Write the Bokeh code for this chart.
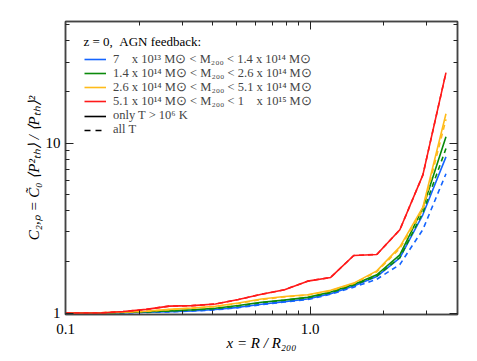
from bokeh.plotting import figure
from bokeh.models import FixedTicker, LogAxis, Legend, LegendItem, Range1d, Label
from bokeh.embed import file_html
from bokeh.resources import INLINE

# radial bins x = R / R200
x = [0.1, 0.1115, 0.1385, 0.172, 0.2137, 0.2655, 0.3298, 0.4098, 0.509, 0.6324,
     0.7856, 0.9761, 1.2127, 1.5065, 1.8716, 2.3252, 2.8885, 3.5887]

# C_{2,P}: solid = only T > 1e6 K, dashed = all T
blue_hot = [1.0, 1.0, 1.0, 1.004, 1.01, 1.018, 1.03, 1.048, 1.08, 1.125, 1.167, 1.21, 1.30, 1.44, 1.64, 2.11, 3.80, 8.30]
blue_all = [1.0, 1.0, 1.0, 1.003, 1.008, 1.015, 1.027, 1.044, 1.075, 1.12, 1.16, 1.20, 1.29, 1.42, 1.58, 1.93, 3.10, 6.60]
green_hot = [1.0, 1.0, 1.0, 1.008, 1.018, 1.03, 1.045, 1.066, 1.106, 1.156, 1.194, 1.236, 1.33, 1.47, 1.68, 2.20, 4.15, 10.9]
green_all = [1.0, 1.0, 1.0, 1.007, 1.016, 1.028, 1.042, 1.062, 1.10, 1.15, 1.19, 1.23, 1.32, 1.46, 1.65, 2.12, 3.90, 9.3]
yellow_hot = [1.0, 1.0, 1.003, 1.012, 1.025, 1.05, 1.07, 1.095, 1.145, 1.21, 1.25, 1.28, 1.36, 1.50, 1.77, 2.45, 4.20, 14.9]
yellow_all = [1.0, 1.0, 1.003, 1.011, 1.023, 1.047, 1.067, 1.09, 1.14, 1.20, 1.245, 1.275, 1.35, 1.49, 1.75, 2.40, 4.05, 13.8]
red_hot = [1.0, 1.0, 1.0, 1.02, 1.05, 1.098, 1.105, 1.13, 1.20, 1.29, 1.37, 1.54, 1.62, 2.18, 2.21, 3.09, 6.5, 26.0]
red_all = [1.0, 1.0, 1.0, 1.02, 1.05, 1.098, 1.105, 1.13, 1.20, 1.29, 1.37, 1.54, 1.62, 2.18, 2.21, 3.09, 6.5, 26.0]

series_labels = [
    "7\u2008\u2007 x 10\u00b9\u00b3 M\u2299 < M\u2082\u2080\u2080 < 1.4 x 10\u00b9\u2074 M\u2299",
    "1.4 x 10\u00b9\u2074 M\u2299 < M\u2082\u2080\u2080 < 2.6 x 10\u00b9\u2074 M\u2299",
    "2.6 x 10\u00b9\u2074 M\u2299 < M\u2082\u2080\u2080 < 5.1 x 10\u00b9\u2074 M\u2299",
    "5.1 x 10\u00b9\u2074 M\u2299 < M\u2082\u2080\u2080 < 1\u2008\u2007 x 10\u00b9\u2075 M\u2299",
]
series_colors = ["#1464ff", "#0b8a0b", "#ffbb1a", "#ff1a1a"]
legend_title = "z = 0,\u2002AGN feedback:"
hot_label = "only T > 10\u2076 K"
all_label = "all T"

x_major = [0.1, 1.0]
x_minor = [0.2, 0.3, 0.4, 0.5, 0.6, 0.7, 0.8, 0.9, 2.0, 3.0, 4.0]
x_tick_labels = {0.1: "0.1", 1.0: "1.0"}
y_major = [1, 10]
y_minor = [2, 3, 4, 5, 6, 7, 8, 9, 20, 30, 40, 50]
y_tick_labels = {1: "1", 10: "10"}

FONT = "Liberation Serif"

p = figure(width=477, height=361, x_axis_type="log", y_axis_type="log",
           x_range=Range1d(0.1, 4.0), y_range=Range1d(0.98, 52.0),
           output_backend="svg", toolbar_location=None,
           min_border_left=65, min_border_right=20, min_border_top=21, min_border_bottom=47)
p.grid.visible = False
p.outline_line_color = "#444444"
p.outline_line_width = 1.5
p.background_fill_color = "white"
p.border_fill_color = "white"

xt = FixedTicker(ticks=x_major, minor_ticks=x_minor)
yt = FixedTicker(ticks=y_major, minor_ticks=y_minor)

def style_axis(ax, ticker, labels, show):
    ax.ticker = ticker
    ax.major_label_overrides = labels
    ax.major_tick_in = 8
    ax.major_tick_out = 0
    ax.minor_tick_in = 4
    ax.minor_tick_out = 0
    ax.axis_line_color = "#444444"
    ax.axis_line_width = 1.5
    ax.major_tick_line_color = "#222222"
    ax.minor_tick_line_color = "#222222"
    ax.major_label_text_font = FONT
    ax.major_label_text_font_size = "15px" if show else "0px"
    ax.major_label_text_color = "black"
    ax.major_label_standoff = 5 if show else 0
    ax.axis_label_text_font = FONT
    ax.axis_label_text_font_size = "15px"
    ax.axis_label_text_font_style = "italic"
    ax.axis_label_text_color = "black"

style_axis(p.xaxis[0], xt, x_tick_labels, True)
style_axis(p.yaxis[0], yt, y_tick_labels, True)
p.xaxis[0].major_label_standoff = 9
p.xaxis[0].axis_label = "x = R / R\u2082\u2080\u2080"
p.xaxis[0].axis_label_standoff = -2
p.yaxis[0].axis_label = "C\u2082,\u209a = C\u0303\u2080 \u27e8P\u00b2\u209c\u2095\u27e9 / \u27e8P\u209c\u2095\u27e9\u00b2"
p.yaxis[0].axis_label_standoff = 1

top_ax = LogAxis()
style_axis(top_ax, xt, {}, False)
top_ax.major_label_overrides = {0.1: "", 1.0: ""}
right_ax = LogAxis()
style_axis(right_ax, yt, {}, False)
right_ax.major_label_overrides = {1: "", 10: ""}
p.add_layout(top_ax, "above")
p.add_layout(right_ax, "right")

hot_series = [blue_hot, green_hot, yellow_hot, red_hot]
all_series = [blue_all, green_all, yellow_all, red_all]
items = []
for lab, col, yh, ya in zip(series_labels, series_colors, hot_series, all_series):
    r = p.line(x, yh, line_color=col, line_width=1.6)
    p.line(x, ya, line_color=col, line_width=1.6, line_dash="5 4")
    items.append(LegendItem(label=lab, renderers=[r]))

# legend-only style keys (no visible data)
nan_series = [float("nan")] * len(x)
r_hot = p.line(x, nan_series, line_color="black", line_width=1.6)
r_all = p.line(x, nan_series, line_color="black", line_width=1.6, line_dash="6 5")
items.append(LegendItem(label=hot_label, renderers=[r_hot]))
items.append(LegendItem(label=all_label, renderers=[r_all]))

# one legend box per row, so the row pitch matches the original
row_offsets = [247.5, 233.5, 219, 205, 191, 177]
for it, off in zip(items, row_offsets):
    lg = Legend(items=[it], location=(19, off),
                label_text_font=FONT, label_text_font_size="12.5px",
                glyph_width=22, glyph_height=14, label_height=14, spacing=0,
                label_standoff=7, padding=0, margin=0,
                border_line_alpha=0, background_fill_alpha=0)
    p.add_layout(lg)

title = Label(x=0.1184, y=39.5, text=legend_title, text_font=FONT, text_font_size="13px",
              text_baseline="middle", text_align="left", text_color="black")
p.add_layout(title)

open("out.html", "w").write(file_html(p, INLINE))
